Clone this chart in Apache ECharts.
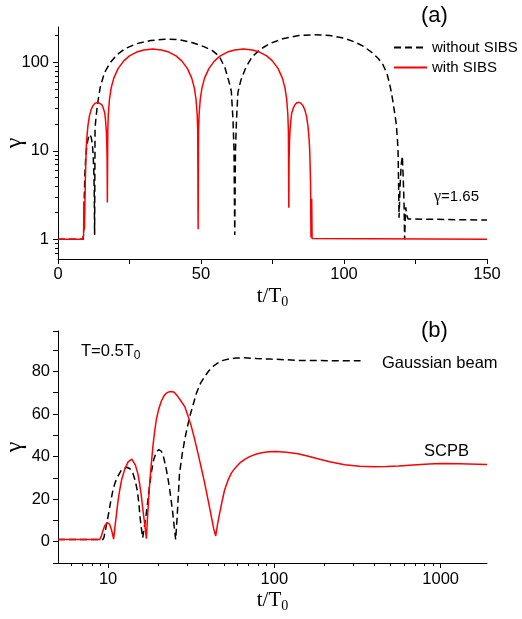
<!DOCTYPE html>
<html>
<head>
<meta charset="utf-8">
<script src="https://cdn.jsdelivr.net/npm/echarts@6/dist/echarts.min.js"></script>
<style>
  html, body { margin: 0; padding: 0; background: #fff; }
  #chart { width: 522px; height: 619px; }
</style>
</head>
<body>
<div id="chart"></div>
<script>
// ---- Panel (a): gamma vs t/T0, linear time, log gamma ----
const aT_without = [0, 8.8, 9.0, 9.2, 9.4, 9.7, 10.1, 10.6, 11.0, 11.6, 12.0, 12.3, 12.55, 12.7, 12.8,
  12.95, 13.19, 13.78, 14.76, 16.23, 18.19, 20.64, 23.58, 27.5, 32.4, 37.3, 42.2, 47.1, 51.0, 54.0,
  56.4, 58.4, 59.8, 60.6, 61.2, 61.55, 61.8,
  62.05, 62.4, 62.9, 63.5, 64.04, 65.72, 67.96, 70.76, 74.1, 78.6, 84.2, 89.8, 95, 100, 104, 107,
  110, 112, 113.6, 115, 115.9, 116.6, 117.1, 117.7, 118.3, 118.7, 118.9, 119.1, 119.25, 119.6,
  120.0, 120.4, 120.7, 121.0, 121.2, 121.4, 121.6, 121.9, 122.4, 123, 150];
const aG_without = [1, 1, 1.3, 3, 5.5, 8.5, 11.5, 14, 15.3, 14.3, 12, 9, 5.5, 3, 1.12,
  17.8, 22, 33, 52, 76, 98, 122, 143, 162, 176, 182, 180, 166, 150, 135,
  117, 86, 60, 47, 22, 10, 1.12,
  10, 22, 45, 55, 64, 88, 116, 140, 163, 184, 200, 205, 201, 187, 168, 150,
  127, 110, 94, 75, 58, 45, 36, 27, 19.8, 13, 9.9, 4, 1.75, 4,
  7, 8.7, 5, 2.5, 1.0, 1.6, 2.3, 1.9, 1.7, 1.65, 1.65];

const aT_with = [0, 8.55, 8.95, 9.05, 9.25, 9.45, 9.55, 9.65, 9.85, 10.05, 10.45, 10.95, 11.55, 12.15,
  12.9, 14.0, 14.65, 15.28, 15.82, 16.36, 16.63, 16.9, 17.04, 17.17, 17.26,
  17.4, 17.6, 18.0, 18.6, 19.5, 21, 23, 25, 27.5, 30, 33.1, 36.2, 38.75, 41.26, 43.26, 45.26,
  46.76, 47.66, 48.26, 48.66, 48.86, 49.0,
  49.14, 49.34, 49.74, 50.34, 51.24, 52.74, 54.74, 56.74, 59.24, 61.74, 64.85, 67.96, 70.46,
  72.96, 74.96, 76.96, 78.46, 79.36, 79.96, 80.36, 80.56, 80.7,
  80.8, 80.95, 81.1, 81.4, 81.7, 82.3, 82.9, 83.6, 84.3, 85.0, 85.7, 86.3, 86.9, 87.4, 87.8,
  88.0, 88.2, 88.3, 88.45, 88.7, 88.85, 89.1, 150];
const aG_with = [1, 1, 1.1, 2.7, 1.3, 1.25, 4.4, 6, 10.3, 13.5, 19, 24.5, 29, 32,
  34.3, 35.3, 35, 33.3, 30.5, 26.5, 22, 16.5, 13, 8, 2.6,
  16.6, 25.9, 38.2, 51.3, 66.1, 84.6, 103.7, 117.9, 130.2, 137.6, 141, 137.6, 130.2, 117.9, 103.7, 84.6,
  66.1, 51.3, 38.2, 25.9, 16.6, 1.3,
  16.6, 25.9, 38.2, 51.3, 66.1, 84.6, 103.7, 117.9, 130.2, 137.6, 141, 137.6, 130.2,
  117.9, 103.7, 84.6, 66.1, 51.3, 38.2, 25.9, 16.6, 2.28,
  8, 13, 16.5, 22, 26.5, 30.5, 33.3, 35, 35.3, 34.3, 32, 29, 24.5, 19, 13.5,
  10.3, 6, 4.4, 1.05, 2.87, 1.02, 1, 1];

// ---- Panel (b): gamma vs t/T0, log time, linear gamma ----
const bT_gauss = [5, 9.3, 9.45, 9.7, 10.0, 10.35, 10.7, 11.05, 11.47, 12.0, 12.9, 13.5, 14.1, 14.6,
  15.0, 15.3, 15.56, 15.85, 16.15,
  16.6, 17.0, 17.4, 17.8, 18.2, 18.8, 19.5, 20.2, 20.9, 21.4, 21.9, 22.4, 23.0, 23.5, 24.0, 24.5,
  25.0, 25.5,
  26.0, 26.9, 27.9, 28.9, 30.0, 31.0, 32.5, 34.0, 36.0, 38.1, 40.4, 42.8, 45.8, 49.1, 54, 59.1,
  66, 78, 95, 118, 135, 187, 250, 330];
const bG_gauss = [1, 1, 2, 6.5, 11.8, 18.5, 24.3, 28, 30.8, 33.5, 35, 34.4, 32.2, 28.5,
  23.8, 18.5, 11.8, 6.5, 1.8,
  8, 13.5, 20, 27, 32.5, 38.5, 42, 43.3, 42.5, 40.8, 37.5, 34, 29, 24.3, 19, 13.4,
  7, 1,
  11, 32.2, 41, 47.9, 54, 58.8, 64.5, 69.8, 74.5, 77.6, 80.3, 82.4, 84, 85.2, 85.9, 86.3,
  86.4, 86.1, 85.8, 85.5, 85.2, 85.1, 85.0, 85];

const bT_scpb = [5, 8.9, 9.1, 9.3, 9.55, 9.9, 10.2, 10.45, 10.65, 10.8,
  11.0, 11.2, 11.45, 11.75, 12.1, 12.59, 13.2, 13.9, 14.6, 15.1, 15.5, 15.85, 16.2, 16.6, 17.0,
  17.2, 17.5, 17.8, 18.2, 18.6, 19.0, 19.5, 20.2, 20.9, 21.6, 22.4, 23.2, 24.0, 25.0, 26.3, 27.5,
  28.9, 30.3, 31.7, 33.2, 34.7, 36.4, 38.1, 39.9, 41.8, 43.2, 44.4,
  45.6, 46.9, 48.5, 50.2, 52.6, 55.1, 58.3, 61.8, 66, 71, 78, 85.4, 93, 102.8, 118, 138.8,
  160, 180, 215, 265, 326, 400, 472, 560, 682, 850, 1000, 1300, 1900];
const bG_scpb = [1, 1, 2.5, 5, 7.5, 9, 8.3, 6, 3.5, 1.2,
  7, 12, 18.5, 24.3, 29.5, 34, 37.5, 38.8, 36, 32, 27, 21.5, 15, 8.5, 1.4,
  9, 19, 27.5, 36.5, 44.7, 51, 57.3, 62.5, 66, 68.3, 69.8, 70.4, 70.6, 70.2, 68.2, 66,
  63.5, 59, 54.1, 48, 41.6, 34.5, 27.5, 19.8, 11.8, 6, 2.7,
  8.5, 13.4, 19, 24.3, 28.8, 32.2, 34.8, 36.9, 38.6, 40, 41.2, 41.9, 42.3, 42.4, 42, 41.3,
  40.2, 39.1, 37.6, 36.2, 35.5, 35.2, 35.3, 35.6, 36.1, 36.5, 36.7, 36.6, 36.3];

// ---- Tick values ----
const aMajorY = [1, 10, 100];
const aMinorY = [0.7, 0.8, 0.9, 2, 3, 4, 5, 6, 7, 8, 9, 20, 30, 40, 50, 60, 70, 80, 90, 200];
const bMajorX = [10, 100, 1000];
const bMinorX = [6, 7, 8, 9, 20, 30, 40, 50, 60, 70, 80, 90, 200, 300, 400, 500, 600, 700, 800, 900];

const SANS = 'Arial, "Liberation Sans", Helvetica, sans-serif';
const SERIF = '"Times New Roman", "Liberation Serif", serif';
const zip = (xs, ys) => xs.map((x, i) => [x, ys[i]]);

const axisLine = { show: true, onZero: false, lineStyle: { color: '#000', width: 1 } };
const hiddenLine = { show: false, onZero: false };
const tickLabel = { color: '#000', fontSize: 16.5, fontFamily: SANS };
const xName = {
  name: '{t|t/T}{s|0}',
  nameLocation: 'middle',
  nameGap: 24,
  nameTextStyle: {
    rich: {
      t: { fontFamily: SERIF, fontSize: 21, color: '#000' },
      s: { fontFamily: SERIF, fontSize: 14, color: '#000', padding: [12, 0, 0, 0] }
    }
  }
};
const yName = {
  name: 'γ',
  nameLocation: 'middle',
  nameRotate: 90,
  nameGap: 31,
  nameMoveOverlap: false,
  nameTextStyle: { fontFamily: SERIF, fontSize: 24, color: '#000' }
};
const dashed = { color: '#000', width: 1.5, type: [7, 4] };
const solid = { color: '#ff0000', width: 1.5 };

const chart = echarts.init(document.getElementById('chart'), null, { renderer: 'canvas' });

chart.setOption({
  animation: false,
  backgroundColor: '#fff',
  grid: [
    { left: 58, top: 27, width: 429, height: 232, containLabel: false, outerBoundsMode: 'none' },
    { left: 58, top: 331, width: 429, height: 232, containLabel: false, outerBoundsMode: 'none' }
  ],
  xAxis: [
    Object.assign({
      gridIndex: 0, type: 'value', min: 0, max: 150, interval: 25,
      axisLine: axisLine,
      axisTick: { show: true, inside: false, length: 5, lineStyle: { color: '#000' } },
      axisLabel: Object.assign({ margin: 7, formatter: v => (v % 50 === 0 ? String(v) : '') }, tickLabel),
      splitLine: { show: false }
    }, xName),
    Object.assign({
      gridIndex: 1, type: 'log', logBase: 10, min: 5, max: 1900,
      axisLine: axisLine,
      axisTick: { show: true, inside: false, length: 5, customValues: bMajorX, lineStyle: { color: '#000' } },
      axisLabel: Object.assign({ margin: 8, customValues: bMajorX, formatter: v => String(Math.round(v)) }, tickLabel),
      minorTick: { show: false },
      splitLine: { show: false }
    }, xName),
    {
      gridIndex: 1, type: 'log', logBase: 10, min: 5, max: 1900, position: 'bottom',
      axisLine: hiddenLine,
      axisTick: { show: true, inside: false, length: 3, customValues: bMinorX, lineStyle: { color: '#000' } },
      axisLabel: { show: false },
      splitLine: { show: false }
    }
  ],
  yAxis: [
    Object.assign({
      gridIndex: 0, type: 'log', logBase: 10, min: 0.6, max: 250,
      axisLine: axisLine,
      axisTick: { show: true, inside: false, length: 5, customValues: aMajorY, lineStyle: { color: '#000' } },
      axisLabel: Object.assign({ margin: 9, customValues: aMajorY, formatter: v => String(Math.round(v)) }, tickLabel),
      minorTick: { show: false },
      splitLine: { show: false }
    }, yName),
    {
      gridIndex: 0, type: 'log', logBase: 10, min: 0.6, max: 250, position: 'left',
      axisLine: hiddenLine,
      axisTick: { show: true, inside: false, length: 3, customValues: aMinorY, lineStyle: { color: '#000' } },
      axisLabel: { show: false },
      splitLine: { show: false }
    },
    Object.assign({
      gridIndex: 1, type: 'value', min: -10, max: 99, interval: 10,
      axisLine: axisLine,
      axisTick: { show: true, inside: false, length: 5, lineStyle: { color: '#000' } },
      axisLabel: Object.assign({ margin: 8, formatter: v => (v >= 0 && v % 20 === 0 ? String(v) : '') }, tickLabel),
      splitLine: { show: false }
    }, yName)
  ],
  legend: {
    left: 393, top: 40, orient: 'vertical', padding: 0,
    itemWidth: 33, itemHeight: 14, itemGap: 5,
    itemStyle: { opacity: 0 },
    textStyle: { color: '#000', fontSize: 15, fontFamily: SANS },
    data: ['without SIBS', 'with SIBS']
  },
  series: [
    { name: 'without SIBS', type: 'line', xAxisIndex: 0, yAxisIndex: 0, data: zip(aT_without, aG_without),
      symbol: 'none', lineStyle: dashed, itemStyle: { color: '#000' }, z: 2 },
    { name: 'with SIBS', type: 'line', xAxisIndex: 0, yAxisIndex: 0, data: zip(aT_with, aG_with),
      symbol: 'none', lineStyle: solid, itemStyle: { color: '#ff0000' }, z: 3 },
    { name: 'Gaussian beam', type: 'line', xAxisIndex: 1, yAxisIndex: 2, data: zip(bT_gauss, bG_gauss),
      symbol: 'none', lineStyle: dashed, itemStyle: { color: '#000' }, z: 2 },
    { name: 'SCPB', type: 'line', xAxisIndex: 1, yAxisIndex: 2, data: zip(bT_scpb, bG_scpb),
      symbol: 'none', lineStyle: solid, itemStyle: { color: '#ff0000' }, z: 3 }
  ],
  graphic: [
    { type: 'text', left: 421, top: 5, style: { text: '(a)', fill: '#000', font: '22px ' + SANS } },
    { type: 'text', left: 421, top: 320, style: { text: '(b)', fill: '#000', font: '22px ' + SANS } },
    { type: 'text', left: 434, top: 189, style: {
        text: '{g|γ}{n|=1.65}',
        rich: { g: { fontFamily: SERIF, fontSize: 16, fill: '#000' }, n: { fontFamily: SANS, fontSize: 15, fill: '#000' } }
      } },
    { type: 'text', left: 81, top: 343, style: {
        text: '{n|T=0.5T}{s|0}',
        rich: { n: { fontFamily: SANS, fontSize: 16.5, fill: '#000' }, s: { fontFamily: SANS, fontSize: 12, fill: '#000', padding: [9, 0, 0, 0] } }
      } },
    { type: 'text', left: 382, top: 355, style: { text: 'Gaussian beam', fill: '#000', font: '16.5px ' + SANS } },
    { type: 'text', left: 424, top: 443, style: { text: 'SCPB', fill: '#000', font: '16.5px ' + SANS } }
  ]
});
</script>
</body>
</html>
